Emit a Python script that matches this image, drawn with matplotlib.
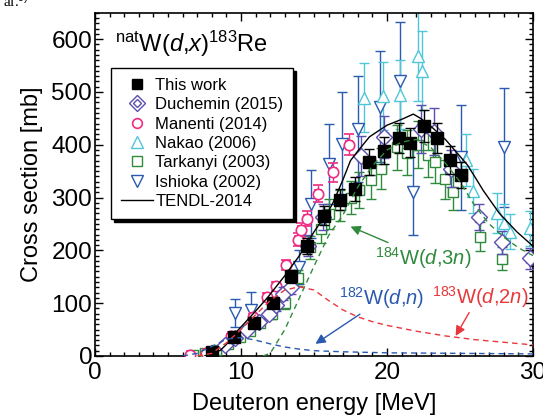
import matplotlib
matplotlib.use("Agg")
import matplotlib.pyplot as plt
from matplotlib.lines import Line2D
from matplotlib.legend_handler import HandlerTuple
from matplotlib.ticker import MultipleLocator

plt.rcParams['font.family'] = ['Liberation Sans', 'DejaVu Sans']
plt.rcParams['mathtext.fontset'] = 'custom'
plt.rcParams['mathtext.rm'] = 'Liberation Sans'
plt.rcParams['mathtext.it'] = 'Liberation Sans:italic'

# This work
this_E = [8.0, 9.5, 10.9, 12.2, 13.4, 14.5, 15.7, 16.8, 17.8, 18.8, 19.8, 20.8, 21.6, 22.5, 23.4, 24.3, 25.1]
this_s = [8, 36, 63, 100, 151, 208, 266, 296, 316, 367, 389, 413, 404, 435, 413, 371, 343]
this_err = [3, 5, 7, 9, 12, 15, 18, 20, 22, 24, 26, 28, 28, 30, 28, 26, 24]

# Duchemin (2015)
duch_E = [8.9, 9.6, 10.4, 11.2, 11.9, 12.4, 12.9, 13.4, 14.6, 15.6, 18.2, 19.8, 22.3, 23.2, 24.4, 26.3, 27.9, 29.8]
duch_s = [21, 35, 50, 64, 80, 96, 118, 130, 209, 263, 378, 414, 430, 425, 355, 263, 215, 185]
duch_err = [3, 4, 5, 6, 8, 10, 12, 13, 20, 25, 38, 40, 45, 45, 35, 25, 22, 20]

# Manenti (2014)
man_E = [6.5, 7.6, 9.3, 10.8, 11.8, 12.4, 13.1, 13.9, 14.1, 14.5, 15.3, 16.3, 17.4]
man_s = [1, 5, 38, 74, 112, 132, 172, 220, 239, 260, 307, 348, 400]
man_err = [1, 1, 3, 5, 7, 8, 10, 12, 13, 14, 16, 18, 20]

# Nakao (2006)
nak_E = [18.4, 19.7, 20.9, 22.1, 22.4, 25.4, 25.9, 27.5, 28.0, 28.4, 29.8]
nak_s = [489, 492, 495, 568, 540, 371, 312, 270, 252, 235, 242]
nak_err = [65, 65, 65, 85, 75, 50, 42, 38, 35, 33, 33]

# Tarkanyi (2003)
tar_E = [6.7, 7.5, 8.3, 9.1, 9.9, 10.6, 11.3, 12.1, 13.0, 13.9, 14.7, 15.5, 16.0, 16.8, 17.5, 18.1,
         18.9, 19.6, 20.7, 21.4, 22.1, 22.8, 23.3, 24.0, 24.5, 26.4, 27.9]
tar_s = [2, 5, 12, 22, 36, 48, 62, 80, 100, 147, 206, 240, 269, 285, 300, 315,
         333, 355, 395, 385, 400, 380, 368, 335, 311, 226, 184]
tar_err = [1, 1, 2, 3, 5, 6, 7, 9, 11, 15, 22, 26, 29, 30, 32, 34,
           36, 38, 42, 42, 44, 42, 40, 37, 34, 27, 22]

# Ishioka (2002)
ish_E = [9.6, 10.7, 14.0, 14.8, 16.0, 16.9, 18.0, 19.5, 20.9, 21.8, 25.1, 28.0]
ish_s = [81, 87, 168, 288, 363, 401, 430, 472, 520, 310, 376, 395]
ish_err = [26, 34, 32, 64, 76, 98, 100, 105, 113, 80, 100, 112]

# TENDL-2014 total
tendl_E = [7.5, 8.0, 8.6, 9.0, 9.7, 10.0, 11.0, 11.8, 12.0, 13.0, 14.0, 14.7, 15.0, 16.0, 16.3, 17.0,
           17.5, 18.0, 18.8, 20.0, 21.0, 21.8, 22.3, 23.0, 24.0, 25.0, 25.5, 26.0, 26.6, 27.7, 28.9, 30.0]
tendl_s = [0, 4, 11, 22, 46, 55, 85, 110, 117, 152, 190, 222, 235, 275, 290, 335,
           370, 388, 415, 437, 448, 458, 450, 435, 410, 378, 362, 340, 313, 270, 235, 208]

# TENDL components
d3n_E = [11.5, 12.0, 13.0, 14.0, 15.0, 16.0, 17.0, 18.0, 19.0, 20.0, 21.0, 22.0, 23.0, 24.0, 25.0,
         26.0, 27.0, 28.0, 29.0, 30.0]
d3n_s = [0, 5, 50, 110, 170, 228, 268, 320, 360, 390, 405, 410, 395, 365, 330, 285, 250, 225, 205, 190]

d2n_E = [7.0, 8.0, 9.0, 10.0, 11.0, 12.0, 13.0, 14.0, 15.0, 16.0, 17.0, 18.0, 19.0, 20.0, 22.0,
         24.0, 26.0, 28.0, 30.0]
d2n_s = [0, 5, 25, 50, 78, 105, 125, 131, 125, 105, 87, 74, 65, 58, 47, 38, 31, 26, 21]

dn_E = [6.0, 7.0, 8.0, 9.0, 10.0, 11.0, 12.0, 13.0, 14.0, 15.0, 17.0, 20.0, 25.0, 30.0]
dn_s = [0, 5, 18, 32, 35, 30, 23, 17, 13, 10, 8, 6, 5, 4]

c_this = 'black'
c_duch = '#5a4fb0'
c_man = '#ee2c82'
c_nak = '#4fc6d8'
c_tar = '#2f8a3c'
c_ish = '#2a59b0'
c_red = '#e8383d'

fig = plt.figure(figsize=(5.43, 4.16), dpi=100)
ax = fig.add_axes([95 / 543, 60 / 416, 438 / 543, 343.3 / 416])

eb = dict(linestyle='none', elinewidth=1.0, capsize=3.5, capthick=1.0)

ax.errorbar(ish_E, ish_s, yerr=ish_err, marker='v', ms=8.5, mfc='white', mec=c_ish, mew=1.0,
            ecolor=c_ish, zorder=2, **eb)
ax.errorbar(nak_E, nak_s, yerr=nak_err, marker='^', ms=8.5, mfc='white', mec=c_nak, mew=1.0,
            ecolor=c_nak, zorder=2, **eb)
ax.errorbar(tar_E, tar_s, yerr=tar_err, xerr=0.3, marker='s', ms=6.5, mfc='white', mec=c_tar, mew=1.0,
            ecolor=c_tar, zorder=3, **eb)
ax.errorbar(man_E, man_s, yerr=man_err, xerr=0.2, marker='o', ms=7.5, mfc='white', mec=c_man, mew=1.2,
            ecolor=c_man, zorder=3, **eb)
ax.errorbar(duch_E, duch_s, yerr=duch_err, xerr=0.25, marker='D', ms=8, mfc='white', mec=c_duch, mew=1.0,
            ecolor=c_duch, zorder=4, **eb)
ax.plot(duch_E, duch_s, linestyle='none', marker='D', ms=4, mfc='none', mec=c_duch, mew=1.0, zorder=4)
ax.errorbar(this_E, this_s, yerr=this_err, xerr=0.35, marker='s', ms=8, mfc=c_this, mec=c_this,
            ecolor=c_this, zorder=5, **eb)

ax.plot(tendl_E, tendl_s, color='black', lw=1.0, zorder=6)
ax.plot(d3n_E, d3n_s, color=c_tar, lw=1.0, ls=(0, (4, 3)), zorder=6)
ax.plot(d2n_E, d2n_s, color=c_red, lw=1.0, ls=(0, (4, 3)), zorder=6)
ax.plot(dn_E, dn_s, color=c_ish, lw=1.0, ls=(0, (4, 3)), zorder=6)

ax.text(1.4, 590, r'$^{\rm nat}$W($d$,$x$)$^{183}$Re', fontsize=17, va='center', ha='left')

ax.annotate(r'$^{184}$W($d$,3$n$)', xy=(17.5, 245), xytext=(22.5, 185), color=c_tar, fontsize=14.5,
            ha='center', va='center',
            arrowprops=dict(arrowstyle='-|>', color=c_tar, lw=1.0, shrinkA=0, shrinkB=0,
                            relpos=(0.2, 1.0)))
ax.annotate(r'$^{182}$W($d$,$n$)', xy=(15.1, 23), xytext=(19.6, 109), color=c_ish, fontsize=14.5,
            ha='center', va='center',
            arrowprops=dict(arrowstyle='-|>', color=c_ish, lw=1.0, shrinkA=0, shrinkB=0,
                            relpos=(0.3, 0.0)))
ax.annotate(r'$^{183}$W($d$,2$n$)', xy=(24.7, 38), xytext=(26.4, 112), color=c_red, fontsize=14.5,
            ha='center', va='center',
            arrowprops=dict(arrowstyle='-|>', color=c_red, lw=1.0, shrinkA=0, shrinkB=0,
                            relpos=(0.4, 0.0)))

ax.set_xlim(0, 30)
ax.set_ylim(0, 650)
ax.xaxis.set_major_locator(MultipleLocator(10))
ax.xaxis.set_minor_locator(MultipleLocator(1))
ax.yaxis.set_major_locator(MultipleLocator(100))
ax.yaxis.set_minor_locator(MultipleLocator(10))
ax.tick_params(which='both', direction='in', top=True, right=True, labelsize=17.5, width=1.0)
ax.tick_params(which='major', length=6, pad=2)
ax.tick_params(axis='x', which='major', pad=4)
ax.tick_params(which='minor', length=3)
ax.set_yticks([0, 100, 200, 300, 400, 500, 600])
for sp in ax.spines.values():
    sp.set_linewidth(1.2)

ax.set_xlabel('Deuteron energy [MeV]', fontsize=17, labelpad=7)
ax.set_ylabel('Cross section [mb]', fontsize=17, labelpad=6)

handles = [
    Line2D([], [], ls='none', marker='s', ms=7, mfc='black', mec='black'),
    (Line2D([], [], ls='none', marker='D', ms=8, mfc='white', mec=c_duch),
     Line2D([], [], ls='none', marker='D', ms=4, mfc='none', mec=c_duch)),
    Line2D([], [], ls='none', marker='o', ms=7, mfc='white', mec=c_man, mew=1.2),
    Line2D([], [], ls='none', marker='^', ms=8, mfc='white', mec=c_nak),
    Line2D([], [], ls='none', marker='s', ms=7, mfc='white', mec=c_tar),
    Line2D([], [], ls='none', marker='v', ms=8, mfc='white', mec=c_ish),
    Line2D([], [], color='black', lw=1.0),
]
labels = ['This work', 'Duchemin (2015)', 'Manenti (2014)', 'Nakao (2006)',
          'Tarkanyi (2003)', 'Ishioka (2002)', 'TENDL-2014']
leg = ax.legend(handles, labels, loc='upper left', bbox_to_anchor=(0.0365, 0.839), borderaxespad=0,
                fontsize=12, handlelength=1.9, handletextpad=0.15, labelspacing=0.26,
                borderpad=0.6, fancybox=False, edgecolor='black', framealpha=1,
                shadow={'color': 'black', 'alpha': 1},
                handler_map={tuple: HandlerTuple(ndivide=1, pad=0)})
leg.get_frame().set_linewidth(1.0)
leg.set_zorder(10)

fig.text(0.005, 0.997, 'al.$^{9)}$', fontsize=11, family='Liberation Serif', va='center', ha='left')

fig.savefig('out.png', dpi=100)
